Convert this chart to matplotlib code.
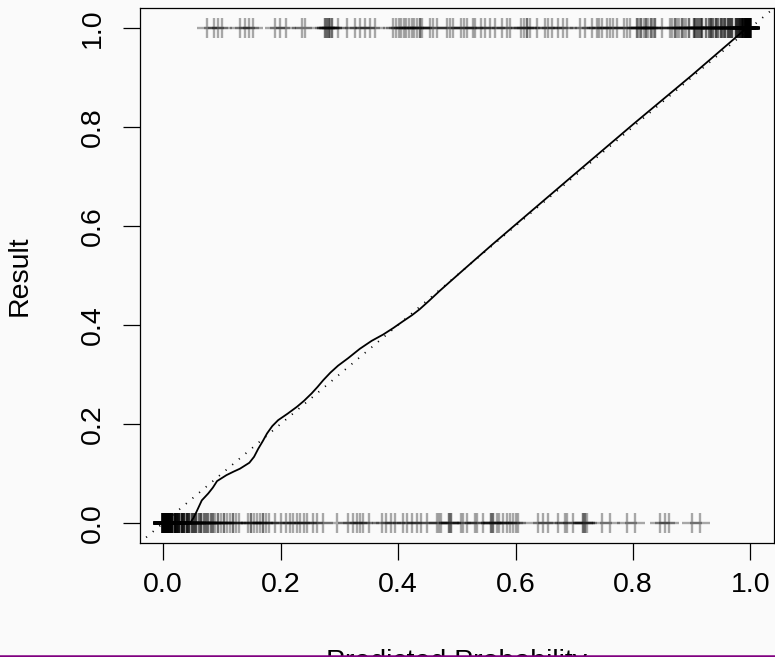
import matplotlib as mpl
mpl.use('agg')
import matplotlib.pyplot as plt
from matplotlib.lines import Line2D
import numpy as np

plt.rcParams['font.family'] = ['Liberation Sans', 'DejaVu Sans']

# predicted probabilities of cases with result 0 (value, how many stacked there)
pred0 = [0.000, 0.002, 0.004, 0.006, 0.008, 0.012, 0.016, 0.020, 0.024, 0.028, 0.032, 0.036, 0.040, 0.044,
         0.049, 0.053, 0.057, 0.061, 0.065, 0.069, 0.073, 0.077, 0.081, 0.085, 0.088,
         0.094, 0.099, 0.104, 0.109, 0.114, 0.119, 0.124, 0.129,
         0.145, 0.150, 0.155, 0.160, 0.165, 0.170, 0.176, 0.181,
         0.190, 0.200, 0.210, 0.216, 0.222, 0.228, 0.234, 0.240, 0.245,
         0.256, 0.262, 0.273, 0.296, 0.315, 0.323, 0.330, 0.335, 0.340, 0.350,
         0.373, 0.380, 0.388, 0.395, 0.409, 0.416, 0.424, 0.432, 0.440, 0.450, 0.466,
         0.469, 0.474, 0.487, 0.490, 0.507, 0.510, 0.517, 0.531, 0.535, 0.545,
         0.558, 0.561, 0.568, 0.572, 0.578, 0.586, 0.591, 0.595, 0.601, 0.605,
         0.639, 0.647, 0.656, 0.673, 0.684, 0.687, 0.698, 0.715, 0.718, 0.722,
         0.748, 0.761, 0.789, 0.803, 0.846, 0.854, 0.862, 0.900, 0.914]
count0 = [30, 25, 20, 15, 12, 10, 9, 8, 7, 6, 6, 5, 5, 4,
          3, 3, 3, 2, 3, 2, 2, 2, 2, 2, 1,
          2, 1, 2, 1, 1, 2, 1, 1,
          1, 2, 1, 1, 1, 2, 1, 1,
          1, 1, 1, 1, 1, 1, 1, 1, 1,
          1, 1, 1, 1, 1, 1, 1, 1, 1, 1,
          1, 1, 1, 1, 1, 1, 1, 1, 1, 1, 1,
          1, 1, 2, 2, 1, 1, 1, 1, 1, 1,
          2, 2, 1, 1, 1, 1, 1, 1, 1, 1,
          1, 1, 1, 1, 1, 1, 1, 2, 2, 1,
          1, 1, 1, 1, 1, 1, 1, 1, 1]

# predicted probabilities of cases with result 1
pred1 = [0.075, 0.086, 0.094, 0.100, 0.131, 0.140, 0.147, 0.154, 0.191, 0.199, 0.210, 0.236, 0.242,
         0.276, 0.279, 0.282, 0.285, 0.287, 0.298, 0.313, 0.327, 0.335, 0.344, 0.352, 0.361,
         0.392, 0.397, 0.401, 0.405, 0.410, 0.414, 0.419, 0.424, 0.428, 0.433, 0.437, 0.441,
         0.454, 0.460, 0.466, 0.483, 0.489, 0.494, 0.508, 0.513, 0.517, 0.528,
         0.531, 0.542, 0.548, 0.557, 0.565, 0.577, 0.585, 0.591, 0.610, 0.615, 0.620, 0.625, 0.636, 0.650, 0.656, 0.662,
         0.673, 0.681, 0.687, 0.710, 0.718, 0.730, 0.738, 0.742, 0.747, 0.755, 0.760, 0.766, 0.772, 0.784, 0.790, 0.795,
         0.806, 0.810, 0.814, 0.818, 0.822, 0.826, 0.830, 0.834, 0.838, 0.849,
         0.863, 0.867, 0.871, 0.875, 0.879, 0.883, 0.887, 0.891, 0.895, 0.903, 0.906, 0.909, 0.912, 0.915, 0.918,
         0.925, 0.929, 0.933, 0.937, 0.941, 0.945, 0.949, 0.953, 0.957, 0.961, 0.965, 0.969,
         0.976, 0.979, 0.982, 0.985, 0.988, 0.991, 0.993, 0.995, 0.997, 0.999]
count1 = [1, 1, 1, 1, 1, 1, 1, 1, 1, 1, 1, 1, 1,
          2, 2, 2, 1, 2, 1, 1, 1, 1, 1, 1, 1,
          1, 1, 1, 1, 1, 1, 1, 1, 1, 1, 2, 1,
          1, 1, 1, 1, 1, 1, 1, 1, 1, 1,
          1, 1, 1, 1, 1, 1, 1, 1, 1, 1, 2, 1, 1, 1, 1, 1,
          1, 1, 1, 1, 1, 1, 1, 1, 1, 1, 1, 1, 1, 1, 1, 1,
          2, 1, 2, 1, 2, 1, 2, 1, 2, 1,
          1, 1, 2, 1, 1, 2, 1, 1, 2, 2, 2, 2, 2, 2, 2,
          2, 2, 3, 2, 3, 2, 3, 2, 3, 3, 3, 3,
          4, 4, 5, 5, 6, 6, 10, 12, 15, 20]

# smoothed calibration curve
curve_x = [0.046, 0.052, 0.057, 0.066, 0.077, 0.085, 0.092, 0.100, 0.108, 0.120, 0.131, 0.147, 0.155,
           0.162, 0.170, 0.177, 0.186, 0.196, 0.212, 0.228, 0.240, 0.253, 0.263, 0.273, 0.285, 0.298,
           0.315, 0.335, 0.355, 0.375, 0.392, 0.409, 0.424, 0.437, 0.452, 0.471, 0.490, 0.511, 0.535,
           0.560, 0.625, 0.700, 0.800, 0.900, 0.990]
curve_y = [0.000, 0.011, 0.023, 0.046, 0.060, 0.072, 0.085, 0.091, 0.097, 0.104, 0.110, 0.122, 0.134,
           0.150, 0.166, 0.181, 0.196, 0.208, 0.221, 0.235, 0.247, 0.262, 0.275, 0.289, 0.304, 0.318,
           0.333, 0.352, 0.368, 0.381, 0.394, 0.408, 0.420, 0.432, 0.448, 0.469, 0.489, 0.511, 0.536,
           0.562, 0.628, 0.704, 0.805, 0.904, 0.996]

ticks = [0.0, 0.2, 0.4, 0.6, 0.8, 1.0]
tick_labels = ["0.0", "0.2", "0.4", "0.6", "0.8", "1.0"]

bg = '#fafafa'
fig = plt.figure(figsize=(7.75, 6.57), dpi=100, facecolor=bg)
ax = fig.add_axes([139.5/775, 1-543/657, (774-139.5)/775, 535/657])
ax.set_facecolor(bg)

x0 = np.repeat(pred0, count0)
x1 = np.repeat(pred1, count1)
ax.plot(x0, np.zeros_like(x0), '+', color='black', alpha=0.33, markersize=14.4, markeredgewidth=1.7)
ax.plot(x1, np.ones_like(x1), '+', color='black', alpha=0.33, markersize=14.4, markeredgewidth=1.7)

ax.axline((0, 0), (1, 1), color='black', linewidth=1.3, linestyle=(0, (0.6, 4.2)))
ax.plot(curve_x, curve_y, color='black', linewidth=1.3, solid_joinstyle='round')

ax.set_xlim(-0.04, 1.04)
ax.set_ylim(-0.04, 1.04)
ax.set_xticks(ticks)
ax.set_xticklabels(tick_labels)
ax.set_yticks(ticks)
ax.set_yticklabels(tick_labels, rotation=90, va='center')
ax.tick_params(direction='out', length=12, width=0.9, labelsize=20.5, colors='black')
ax.tick_params(axis='y', pad=12)
ax.tick_params(axis='x', pad=9)
for s in ax.spines.values():
    s.set_linewidth(0.9)

fig.text(20/775, 1-275.5/657, "Result", rotation=90, ha='center', va='center', fontsize=20.5)
fig.text(456.75/775, -12/657, "Predicted Probability", ha='center', va='baseline', fontsize=20.5)

# purple strip along the lower edge of the screenshot
fig.add_artist(Line2D([0, 1], [1.2/657, 1.2/657], transform=fig.transFigure, color='#800080', linewidth=1.8, zorder=10))

plt.savefig("out.png", dpi=100, facecolor=bg)
